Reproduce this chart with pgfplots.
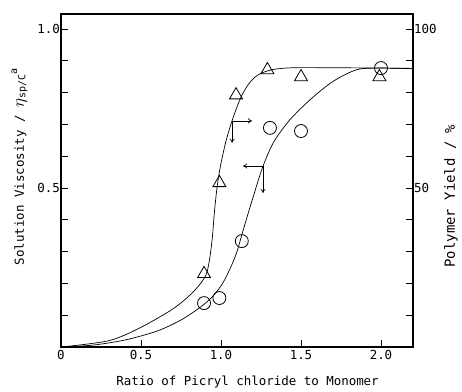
\documentclass[border=0pt]{standalone}
\usepackage{pgfplots}
\pgfplotsset{compat=1.18}
\usepackage{fontspec}
\setmainfont{DejaVu Sans Mono}
\usetikzlibrary{arrows.meta}
\newcommand{\myfont}{\fontsize{12.5}{14}\selectfont}
\begin{document}
\begin{tikzpicture}
\useasboundingbox (-61bp,-45bp) rectangle (401bp,347bp);
\pgfplotsset{
  every axis/.append style={
    scale only axis, width=352bp, height=333bp,
    at={(0,0)}, anchor=south west,
    xmin=0, xmax=2.2,
    /pgf/number format/assume math mode=true,
    tick label style={font=\myfont},
    label style={font=\myfont},
    major tick length=7bp,
    tick style={black, line width=0.8pt},
    axis line style={line width=1.2pt},
    clip=false,
  }
}
\begin{axis}[
  ymin=0, ymax=1.047,
  xtick={0,0.5,1,1.5,2},
  xticklabels={0,0.5,1.0,1.5,2.0},
  ytick={0.1,0.2,0.3,0.4,0.5,0.6,0.7,0.8,0.9,1.0},
  yticklabels={,,,,0.5,,,,,1.0},
  xtick pos=bottom, ytick pos=left,
  tick align=inside,
  yticklabel style={inner xsep=1bp},
  xlabel={Ratio of Picryl chloride to Monomer},
  xlabel style={at={(axis description cs:0.53,-0.105)}, anchor=center},
  ylabel={Solution Viscosity / {\fontsize{17}{18}\selectfont$\eta$}\raisebox{-0.2ex}{\fontsize{10}{11}\selectfont sp/C}\raisebox{1.0ex}{\fontsize{10}{11}\selectfont a}},
  ylabel style={at={(axis description cs:-0.118,0.54)}, anchor=center},
]
% viscosity curve (circles)
\addplot[black, line width=0.7pt, smooth, tension=0.5] coordinates {
 (0,0) (0.2,0.006) (0.4,0.022) (0.6,0.05) (0.75,0.085) (0.87,0.125) (0.95,0.16)
 (1.01,0.2) (1.06,0.25) (1.1,0.3) (1.14,0.37) (1.2,0.47) (1.26,0.565) (1.33,0.645)
 (1.43,0.714) (1.556,0.777) (1.7,0.835) (1.85,0.872) (2.0,0.877) (2.2,0.875)};
% yield curve (triangles)
\addplot[black, line width=0.7pt, smooth, tension=0.5] coordinates {
 (0,0) (0.3,0.02) (0.5,0.062) (0.7,0.12) (0.82,0.17)
 (0.9,0.22) (0.925,0.265) (0.945,0.34) (0.96,0.43) (0.975,0.50)
 (0.995,0.565) (1.03,0.645) (1.069,0.711) (1.12,0.78) (1.17,0.825) (1.23,0.855)
 (1.32,0.872) (1.45,0.878) (1.7,0.878) (2.0,0.877) (2.2,0.876)};
% circles: viscosity
\addplot[only marks, mark=o, mark size=6.5bp, mark options={line width=0.8pt}] coordinates {
 (0.894,0.138) (0.99,0.154) (1.13,0.333) (1.306,0.689) (1.5,0.679) (2.0,0.877)};
% triangles: yield (scaled to left axis)
\addplot[only marks, mark=triangle, mark size=7.5bp, mark options={line width=0.8pt}] coordinates {
 (0.894,0.23) (0.99,0.516) (1.094,0.792) (1.29,0.871) (1.5,0.849) (1.99,0.849)};
% indicator arrows
\addplot[black, line width=0.7pt, -{To[length=4bp,width=5bp]}] coordinates {(1.069,0.711) (1.194,0.711)};
\addplot[black, line width=0.7pt, -{To[length=4bp,width=5bp]}] coordinates {(1.069,0.711) (1.069,0.642)};
\addplot[black, line width=0.7pt, -{To[length=4bp,width=5bp]}] coordinates {(1.2625,0.569) (1.1375,0.569)};
\addplot[black, line width=0.7pt, -{To[length=4bp,width=5bp]}] coordinates {(1.2625,0.569) (1.2625,0.484)};
\end{axis}
\begin{axis}[
  ymin=0, ymax=104.7,
  axis x line=none,
  axis y line*=right,
  ytick={10,20,30,40,50,60,70,80,90,100},
  yticklabels={,,,,50,,,,,100},
  tick align=inside,
  yticklabel style={inner xsep=1bp},
  ylabel={Polymer Yield / \%},
  ylabel style={font=\fontsize{14}{15}\selectfont, at={(axis description cs:1.108,0.453)}, anchor=center},
]
\end{axis}
\end{tikzpicture}
\end{document}
